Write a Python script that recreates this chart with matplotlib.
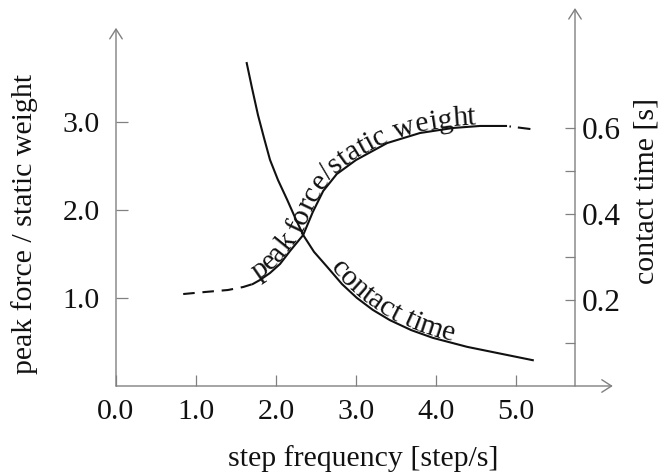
import numpy as np
import matplotlib
matplotlib.use('Agg')
import matplotlib.pyplot as plt
from matplotlib.font_manager import FontProperties, findfont, get_font

plt.rcParams['font.family'] = ['Liberation Serif', 'DejaVu Serif']
plt.rcParams['lines.scale_dashes'] = False

# === Data ===
x_ticks = [0, 1, 2, 3, 4, 5]
x_tick_labels = ['0.0', '1.0', '2.0', '3.0', '4.0', '5.0']
force_ticks = [1, 2, 3]
force_tick_labels = ['1.0', '2.0', '3.0']
time_ticks = [0.1, 0.2, 0.3, 0.4, 0.5, 0.6]
time_tick_labels = ['', '0.2', '', '0.4', '', '0.6']

# peak force / static weight (left axis)
force_dash_x = [0.84, 1.11, 1.40, 1.59, 1.71]
force_dash_y = [1.045, 1.068, 1.091, 1.125, 1.159]
force_x = [1.71, 1.80, 1.925, 2.05, 2.175, 2.34, 2.46, 2.59, 2.76, 3.00,
           3.39, 3.80, 4.21, 4.55, 4.875]
force_y = [1.159, 1.205, 1.284, 1.386, 1.534, 1.716, 1.977, 2.216, 2.409, 2.568,
           2.761, 2.875, 2.932, 2.955, 2.955]
force_tail_x = [4.875, 5.18]
force_tail_y = [2.955, 2.92]

# contact time (right axis)
time_x = [1.634, 1.70, 1.775, 1.85, 1.925, 2.025, 2.14, 2.24, 2.34, 2.475,
          2.64, 2.825, 3.01, 3.21, 3.425, 3.69, 3.96, 4.39, 4.76, 5.21]
time_y = [0.751, 0.693, 0.630, 0.577, 0.526, 0.479, 0.433, 0.391, 0.351, 0.312,
          0.277, 0.237, 0.205, 0.177, 0.153, 0.130, 0.112, 0.091, 0.077, 0.060]

W, H = 664, 475
FS = 21.5      # left / bottom text
FS_R = 22.5    # right tick labels
GRAY = '#808080'
INK = '#111111'

fig = plt.figure(figsize=(W / 100, H / 100), dpi=100)
ax = fig.add_axes([0, 0, 1, 1])
ax.set_xlim(-116 / 80, (W - 116) / 80)
ax.set_ylim(-89 / 88, (H - 89) / 88)
ax2 = ax.twinx()
ax2.set_ylim(-89 / 430, (H - 89) / 430)

for a in (ax, ax2):
    for sp in a.spines.values():
        sp.set_visible(False)
ax.spines['bottom'].set_position(('data', 0))
ax.spines['left'].set_position(('data', 0))
right_x = 5.7375
ax2.spines['right'].set_position(('data', right_x))

ax.set_xticks(x_ticks, x_tick_labels)
ax.set_yticks(force_ticks, force_tick_labels)
ax2.set_yticks(time_ticks, time_tick_labels)
ax.tick_params(axis='x', direction='in', length=8, width=0.9, color=GRAY, pad=9.5,
               labelsize=FS, labelcolor=INK)
ax.tick_params(axis='y', direction='in', length=8.5, width=0.9, color=GRAY, pad=11.5,
               labelsize=FS, labelcolor=INK)
ax2.tick_params(axis='y', direction='in', length=7.5, width=0.9, color=GRAY, pad=5,
                labelsize=FS_R, labelcolor=INK)

# axis lines with open arrow heads
arrow_kw = dict(arrowstyle='->,head_length=0.7,head_width=0.45', color=GRAY, lw=1.0,
                shrinkA=0, shrinkB=0)
ax.annotate('', xy=(6.21, 0), xytext=(0, 0), arrowprops=arrow_kw)
ax.annotate('', xy=(0, 4.07), xytext=(0, 0), arrowprops=arrow_kw)
ax2.annotate('', xy=(right_x, 0.879), xytext=(right_x, 0), arrowprops=arrow_kw)

# curves
ax.plot(force_dash_x, force_dash_y, color=INK, lw=1.5, ls=(0, (8.3, 5.6)))
ax.plot(force_x, force_y, color=INK, lw=1.5)
ax.plot(force_tail_x, force_tail_y, color=INK, lw=1.5, ls=(15.5, (1.1, 5.0, 9.4, 2.5)))
ax2.plot(time_x, time_y, color=INK, lw=1.5)

# === text that follows a curve ===
font = get_font(findfont(FontProperties(family='Liberation Serif')))
font.set_size(FS, fig.dpi)


def curved_label(axis, xs, ys, text, x_start, offset):
    pts = axis.transData.transform(np.column_stack([xs, ys]))
    seg = np.hypot(np.diff(pts[:, 0]), np.diff(pts[:, 1]))
    s = np.concatenate([[0], np.cumsum(seg)])
    pos = np.interp(x_start, xs, s)
    for ch in text:
        adv = font.load_char(ord(ch)).linearHoriAdvance / 65536
        sc = pos + adv / 2
        px = np.interp(sc, s, pts[:, 0])
        py = np.interp(sc, s, pts[:, 1])
        half = max(adv / 2, 6)
        dx = np.interp(sc + half, s, pts[:, 0]) - np.interp(sc - half, s, pts[:, 0])
        dy = np.interp(sc + half, s, pts[:, 1]) - np.interp(sc - half, s, pts[:, 1])
        ang = np.arctan2(dy, dx)
        nx, ny = -np.sin(ang), np.cos(ang)
        if ch != ' ':
            fig.text((px + nx * offset) / W, (py + ny * offset) / H, ch,
                     rotation=np.degrees(ang), rotation_mode='anchor',
                     ha='center', va='baseline', fontsize=FS, color=INK)
        pos += adv


curved_label(ax, force_x, force_y, 'peak force/static weight', 1.78, 1.5)
curved_label(ax2, time_x, time_y, 'contact time', 2.66, 1.5)

# axis titles
fig.text(363 / W, 1 - 466 / H, 'step frequency [step/s]', ha='center', va='baseline',
         fontsize=FS, color=INK)
fig.text(25 / W, 1 - 224 / H, 'peak force / static weight', rotation=90,
         ha='center', va='center', fontsize=FS, color=INK)
fig.text(647 / W, 1 - 191 / H, 'contact time [s]', rotation=90,
         ha='center', va='center', fontsize=FS, color=INK)

fig.savefig('out.png', dpi=100)
